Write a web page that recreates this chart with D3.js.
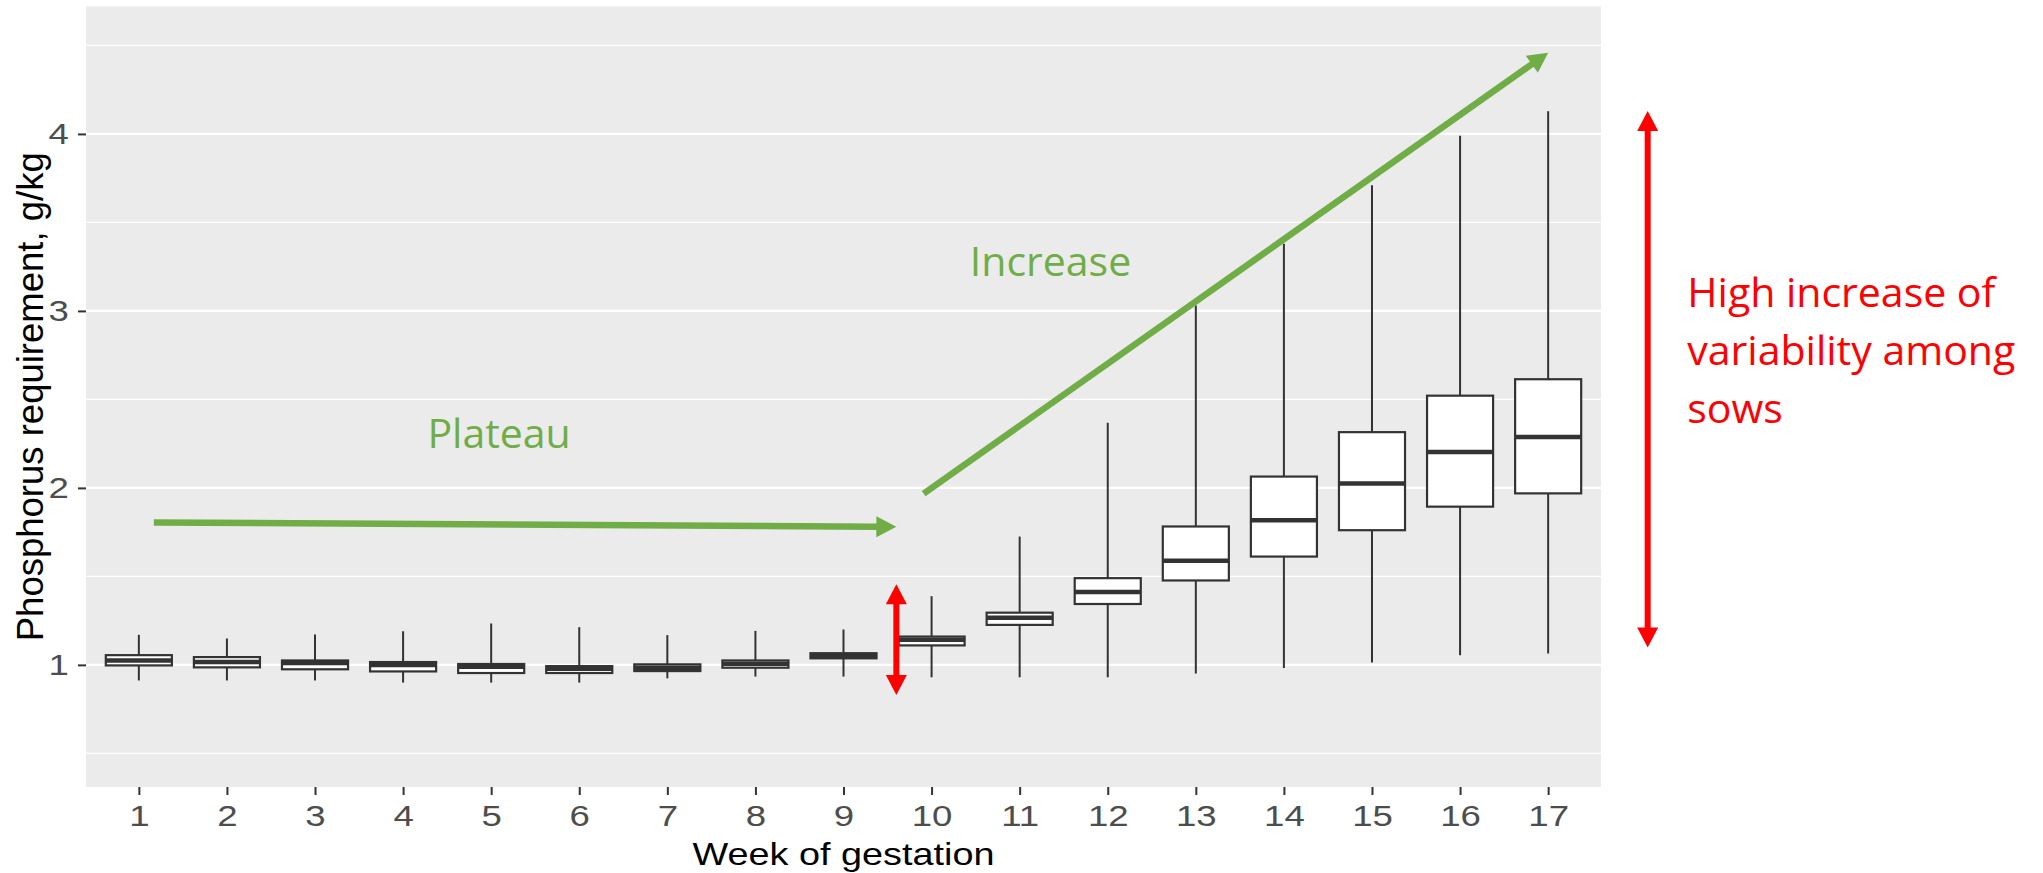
<!DOCTYPE html>
<html>
<head>
<meta charset="utf-8">
<script src="https://cdn.jsdelivr.net/npm/d3@7/dist/d3.min.js"></script>
<style>
  body { margin: 0; background: #fff; }
  svg { display: block; }
</style>
</head>
<body>
<svg id="chart" width="2043" height="873"></svg>
<script>
// boxplot summary per week of gestation
var weeks = [1, 2, 3, 4, 5, 6, 7, 8, 9, 10, 11, 12, 13, 14, 15, 16, 17];
var whiskerLow  = [0.912, 0.912, 0.912, 0.900, 0.900, 0.900, 0.924, 0.934, 0.934, 0.930, 0.930, 0.930, 0.951, 0.983, 1.014, 1.054, 1.065];
var q1          = [0.997, 0.986, 0.975, 0.963, 0.954, 0.954, 0.965, 0.984, 1.037, 1.110, 1.226, 1.344, 1.477, 1.612, 1.761, 1.894, 1.969];
var median      = [1.025, 1.016, 1.010, 1.000, 0.990, 0.978, 0.984, 1.007, 1.052, 1.142, 1.267, 1.412, 1.589, 1.817, 2.025, 2.203, 2.287];
var q3          = [1.055, 1.044, 1.025, 1.016, 1.005, 0.993, 1.003, 1.025, 1.066, 1.160, 1.295, 1.490, 1.782, 2.064, 2.315, 2.521, 2.614];
var whiskerHigh = [1.170, 1.149, 1.172, 1.190, 1.234, 1.213, 1.168, 1.192, 1.200, 1.388, 1.725, 2.368, 3.030, 3.380, 3.710, 3.990, 4.128];

var yTicks = [1, 2, 3, 4];
var yMinor = [0.5, 1.5, 2.5, 3.5, 4.5];
var xTitle = 'Week of gestation';
var yTitle = 'Phosphorus requirement, g/kg';

// slide annotations, in data units (week, g/kg)
var arrowFrom  = [[1.17, 1.805], [9.91, 1.968], [9.6, 0.83],  [18.13, 1.098]];
var arrowTo    = [[9.6, 1.78],   [17.0, 4.459], [9.6, 1.455], [18.13, 4.13]];
var arrowKind  = ['green', 'green', 'red', 'red'];
var arrowBoth  = [false, false, true, true];

var noteLines  = [['Plateau'], ['Increase'], ['High increase of', 'variability among', 'sows']];
var noteAt     = [[5.09, 2.224], [11.35, 3.197], [18.58, 3.021]];
var noteKind   = ['green', 'green', 'red'];
var noteAnchor = ['middle', 'middle', 'start'];

var colours = { green: '#70AD47', red: '#FF0000' };

var svg = d3.select('#chart');
var panel = { left: 86, right: 1601, top: 6.5, bottom: 787 };
var stretch = 1.22; // the original plot was widened a bit

var x = d3.scalePoint().domain(weeks).range([panel.left, panel.right]).padding(0.6);
var xl = d3.scaleLinear().domain([1, 17]).range([x(1), x(17)]);
var y = d3.scaleLinear().domain([0.31, 4.72]).range([panel.bottom, panel.top]);
var boxW = x.step() * 0.75;

svg.append('rect').attr('width', 2043).attr('height', 873).attr('fill', '#fff');

// panel + grid
svg.append('rect')
  .attr('x', panel.left).attr('y', panel.top)
  .attr('width', panel.right - panel.left).attr('height', panel.bottom - panel.top)
  .attr('fill', '#EBEBEB');

svg.selectAll('.minor').data(yMinor).enter().append('line')
  .attr('x1', panel.left).attr('x2', panel.right)
  .attr('y1', d => y(d)).attr('y2', d => y(d))
  .attr('stroke', '#fff').attr('stroke-width', 1.2);

svg.selectAll('.major').data(yTicks).enter().append('line')
  .attr('x1', panel.left).attr('x2', panel.right)
  .attr('y1', d => y(d)).attr('y2', d => y(d))
  .attr('stroke', '#fff').attr('stroke-width', 2.3);

// boxes
var boxes = svg.selectAll('.box').data(weeks).enter().append('g').attr('class', 'box');

boxes.append('line')
  .attr('x1', d => x(d)).attr('x2', d => x(d))
  .attr('y1', (d, i) => y(whiskerLow[i])).attr('y2', (d, i) => y(whiskerHigh[i]))
  .attr('stroke', '#333').attr('stroke-width', 2);

boxes.append('rect')
  .attr('x', d => x(d) - boxW / 2).attr('width', boxW)
  .attr('y', (d, i) => y(q3[i])).attr('height', (d, i) => y(q1[i]) - y(q3[i]))
  .attr('fill', '#fff').attr('stroke', '#333').attr('stroke-width', 2.2);

boxes.append('line')
  .attr('x1', d => x(d) - boxW / 2).attr('x2', d => x(d) + boxW / 2)
  .attr('y1', (d, i) => y(median[i])).attr('y2', (d, i) => y(median[i]))
  .attr('stroke', '#333').attr('stroke-width', 4.5);

// axes
var yAxis = svg.append('g')
  .attr('transform', 'translate(' + panel.left + ',0)')
  .call(d3.axisLeft(y).tickValues(yTicks).tickSize(8).tickPadding(6).tickFormat(d3.format('d')));

var xAxis = svg.append('g')
  .attr('transform', 'translate(0,' + panel.bottom + ')')
  .call(d3.axisBottom(x).tickSize(8).tickPadding(10));

[yAxis, xAxis].forEach(function(ax) {
  ax.select('.domain').remove();
  ax.selectAll('.tick line').attr('stroke', '#333').attr('stroke-width', 2);
  ax.selectAll('.tick text')
    .attr('fill', '#4D4D4D')
    .style('font-family', '"Liberation Sans", Arial, sans-serif')
    .style('font-size', '30px')
    .attr('transform', 'scale(' + stretch + ',1)');
});

svg.append('text')
  .attr('transform', 'translate(' + ((panel.left + panel.right) / 2) + ',865) scale(' + stretch + ',1)')
  .attr('text-anchor', 'middle')
  .style('font-family', '"Liberation Sans", Arial, sans-serif')
  .style('font-size', '31px')
  .attr('fill', '#000')
  .text(xTitle);

svg.append('text')
  .attr('transform', 'translate(43,' + ((panel.top + panel.bottom) / 2) + ') rotate(-90)')
  .attr('text-anchor', 'middle')
  .style('font-family', '"Liberation Sans", Arial, sans-serif')
  .style('font-size', '36.5px')
  .attr('fill', '#000')
  .text(yTitle);

// annotation arrows
function head(tip, ux, uy, len, half) {
  var bx = tip[0] - ux * len, by = tip[1] - uy * len;
  return [tip, [bx - uy * half, by + ux * half], [bx + uy * half, by - ux * half]];
}

var ann = svg.append('g').attr('class', 'annotations');

arrowFrom.forEach(function(f, i) {
  var a = [xl(f[0]), y(f[1])];
  var b = [xl(arrowTo[i][0]), y(arrowTo[i][1])];
  var dx = b[0] - a[0], dy = b[1] - a[1];
  var L = Math.sqrt(dx * dx + dy * dy);
  var ux = dx / L, uy = dy / L;
  var col = colours[arrowKind[i]];
  var len = 20, half = 10.5;
  var sw = arrowKind[i] == 'green' ? 6.5 : 6;
  var s = arrowBoth[i] ? [a[0] + ux * (len - 1), a[1] + uy * (len - 1)] : a;
  var e = [b[0] - ux * (len - 1), b[1] - uy * (len - 1)];
  ann.append('line')
    .attr('x1', s[0]).attr('y1', s[1]).attr('x2', e[0]).attr('y2', e[1])
    .attr('stroke', col).attr('stroke-width', sw);
  ann.append('polygon').attr('points', head(b, ux, uy, len, half).join(' ')).attr('fill', col);
  if (arrowBoth[i]) {
    ann.append('polygon').attr('points', head(a, -ux, -uy, len, half).join(' ')).attr('fill', col);
  }
});

// annotation text
noteLines.forEach(function(lines, i) {
  var t = ann.append('text')
    .attr('x', xl(noteAt[i][0])).attr('y', y(noteAt[i][1]))
    .attr('text-anchor', noteAnchor[i])
    .attr('fill', colours[noteKind[i]])
    .style('font-family', '"Open Sans", sans-serif')
    .style('font-size', '41px');
  lines.forEach(function(l, j) {
    t.append('tspan').attr('x', xl(noteAt[i][0])).attr('dy', j == 0 ? 0 : 58).text(l);
  });
});
</script>
</body>
</html>
